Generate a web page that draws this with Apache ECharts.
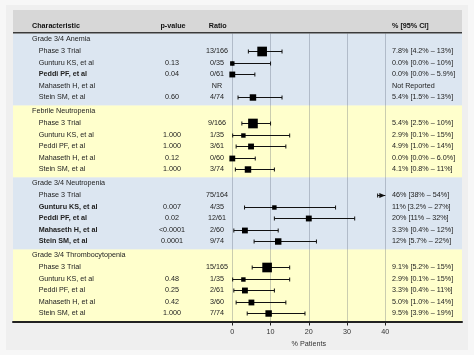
<!DOCTYPE html>
<html><head><meta charset="utf-8">
<script src="https://cdn.jsdelivr.net/npm/echarts@6/dist/echarts.min.js"></script>
<style>html,body{margin:0;padding:0;background:#f7f7f7}#c{width:474px;height:355px}</style>
</head><body><div id="c"></div>
<script>
const groups = ['Grade 3/4 Anemia', 'Febrile Neutropenia', 'Grade 3/4 Neutropenia', 'Grade 3/4 Thrombocytopenia'];
const studies = ['Phase 3 Trial', 'Gunturu KS, et al', 'Peddi PF, et al', 'Mahaseth H, et al', 'Stein SM, et al'];
const pValues = [
  ['', '0.13', '0.04', '', '0.60'],
  ['', '1.000', '1.000', '0.12', '1.000'],
  ['', '0.007', '0.02', '<0.0001', '0.0001'],
  ['', '0.48', '0.25', '0.42', '1.000']
];
const ratios = [
  ['13/166', '0/35', '0/61', 'NR', '4/74'],
  ['9/166', '1/35', '3/61', '0/60', '3/74'],
  ['75/164', '4/35', '12/61', '2/60', '9/74'],
  ['15/165', '1/35', '2/61', '3/60', '7/74']
];
const estimates = [
  [7.8, 0.0, 0.0, null, 5.4],
  [5.4, 2.9, 4.9, 0.0, 4.1],
  [46, 11, 20, 3.3, 12],
  [9.1, 2.9, 3.3, 5.0, 9.5]
];
const lower = [
  [4.2, 0.0, 0.0, null, 1.5],
  [2.5, 0.1, 1.0, 0.0, 0.8],
  [38, 3.2, 11, 0.4, 5.7],
  [5.2, 0.1, 0.4, 1.0, 3.9]
];
const upper = [
  [13, 10, 5.9, null, 13],
  [10, 15, 14, 6.0, 11],
  [54, 27, 32, 12, 22],
  [15, 15, 11, 14, 19]
];
const ciLabels = [
  ['7.8% [4.2% – 13%]', '0.0% [0.0% – 10%]', '0.0% [0.0% – 5.9%]', 'Not Reported', '5.4% [1.5% – 13%]'],
  ['5.4% [2.5% – 10%]', '2.9% [0.1% – 15%]', '4.9% [1.0% – 14%]', '0.0% [0.0% – 6.0%]', '4.1% [0.8% – 11%]'],
  ['46% [38% – 54%]', '11% [3.2% – 27%]', '20% [11% – 32%]', '3.3% [0.4% – 12%]', '12% [5.7% – 22%]'],
  ['9.1% [5.2% – 15%]', '2.9% [0.1% – 15%]', '3.3% [0.4% – 11%]', '5.0% [1.0% – 14%]', '9.5% [3.9% – 19%]']
];
const boldRows = [
  [0, 0, 1, 0, 0],
  [0, 0, 0, 0, 0],
  [0, 1, 1, 1, 1],
  [0, 0, 0, 0, 0]
];
const headers = ['Characteristic', 'p-value', 'Ratio', '% [95% CI]'];
const xAxisName = '% Patients';

const FONT = "'Liberation Sans', Arial, sans-serif";
const FS = 7.2;
const BAND = 6.2;
const TOTAL = groups.length * BAND;
const XMAX = 40;
function rowY(g, r) { return g * BAND + 0.5 + r; }

const textItems = [];
const forestData = [];
const bandData = [];
groups.forEach((gName, g) => {
  bandData.push([g * BAND, (g + 1) * BAND, g % 2]);
  textItems.push({ value: [19, rowY(g, 0)], text: gName, align: 'left', bold: false });
  studies.forEach((s, i) => {
    const y = rowY(g, i + 1);
    textItems.push({ value: [25.7, y], text: s, align: 'left', bold: !!boldRows[g][i] });
    if (pValues[g][i]) textItems.push({ value: [159, y], text: pValues[g][i], align: 'center', bold: false });
    textItems.push({ value: [204, y], text: ratios[g][i], align: 'center', bold: false });
    textItems.push({ value: [379, y], text: ciLabels[g][i], align: 'left', bold: false });
    if (estimates[g][i] !== null) {
      const n = parseInt(ratios[g][i].split('/')[1], 10);
      forestData.push([estimates[g][i], lower[g][i], upper[g][i], y, 0.75 * Math.sqrt(n)]);
    }
  });
});

const chart = echarts.init(document.getElementById('c'), null, { renderer: 'canvas' });
const option = {
  backgroundColor: '#f7f7f7',
  animation: false,
  graphic: [
    { type: 'rect', z: -10, shape: { x: 6, y: 5, width: 462, height: 345 }, style: { fill: '#efefef' } },
    { type: 'rect', z: -5, shape: { x: 13, y: 10, width: 449, height: 22.5 }, style: { fill: '#d7d7d7' } },
    { type: 'rect', z: 5, shape: { x: 13, y: 32, width: 449, height: 1.4 }, style: { fill: '#3a3a3a' } },
    { type: 'text', z: 5, x: 32, y: 26, style: { text: headers[0], font: 'bold ' + FS + 'px ' + FONT, fill: '#111', textAlign: 'left', textVerticalAlign: 'middle' } },
    { type: 'text', z: 5, x: 173, y: 26, style: { text: headers[1], font: 'bold ' + FS + 'px ' + FONT, fill: '#111', textAlign: 'center', textVerticalAlign: 'middle' } },
    { type: 'text', z: 5, x: 208.7, y: 26, style: { text: headers[2], font: 'bold ' + FS + 'px ' + FONT, fill: '#111', textAlign: 'left', textVerticalAlign: 'middle' } },
    { type: 'text', z: 5, x: 392, y: 26, style: { text: headers[3], font: 'bold ' + FS + 'px ' + FONT, fill: '#111', textAlign: 'left', textVerticalAlign: 'middle' } }
  ],
  grid: [
    { left: 232.3, top: 33.5, width: 153, height: 288 },
    { left: 13, top: 33.5, width: 449, height: 288 }
  ],
  xAxis: [
    {
      gridIndex: 0, type: 'value', min: 0, max: XMAX, interval: 10, z: 1,
      axisLine: { show: false, onZero: false },
      axisTick: { show: true, length: 4, lineStyle: { color: '#222', width: 1 } },
      axisLabel: { fontSize: FS, color: '#333', margin: 7, fontFamily: FONT },
      splitLine: { show: true, lineStyle: { color: 'rgba(80,90,110,0.3)', width: 1 } },
      name: xAxisName, nameLocation: 'middle', nameGap: 17,
      nameTextStyle: { fontSize: FS, color: '#333', fontFamily: FONT }
    },
    {
      gridIndex: 1, type: 'value', min: 0, max: 449, z: 2,
      axisLine: { show: true, onZero: false, lineStyle: { color: '#222', width: 2 } },
      axisTick: { show: false }, axisLabel: { show: false }, splitLine: { show: false }
    }
  ],
  yAxis: [
    { gridIndex: 0, type: 'value', inverse: true, min: 0, max: TOTAL, show: false },
    { gridIndex: 1, type: 'value', inverse: true, min: 0, max: TOTAL, show: false }
  ],
  series: [
    {
      type: 'custom', xAxisIndex: 1, yAxisIndex: 1, z: 0, silent: true,
      data: bandData,
      renderItem: function (params, api) {
        const p0 = api.coord([0, api.value(0)]);
        const p1 = api.coord([449, api.value(1)]);
        return { type: 'rect', shape: { x: p0[0], y: p0[1], width: p1[0] - p0[0], height: p1[1] - p0[1] },
          style: { fill: api.value(2) === 0 ? '#dce6f1' : '#ffffcc' } };
      }
    },
    {
      type: 'custom', xAxisIndex: 0, yAxisIndex: 0, z: 3, silent: true, clip: false,
      data: forestData,
      renderItem: function (params, api) {
        const est = api.value(0), lo = api.value(1), hi = api.value(2), y = api.value(3), sz = api.value(4);
        const pl = api.coord([lo, y]);
        const ph = api.coord([Math.min(hi, XMAX), y]);
        const st = { stroke: '#111', lineWidth: 1 };
        const cy = Math.round(pl[1]) + 0.5;
        const ch = [
          { type: 'line', shape: { x1: pl[0], y1: cy, x2: ph[0], y2: cy }, style: st },
          { type: 'line', shape: { x1: pl[0], y1: cy - 2, x2: pl[0], y2: cy + 2 }, style: st }
        ];
        if (hi <= XMAX) {
          ch.push({ type: 'line', shape: { x1: ph[0], y1: cy - 2, x2: ph[0], y2: cy + 2 }, style: st });
        } else {
          ch.push({ type: 'polygon', shape: { points: [[ph[0] - 6, cy - 2.5], [ph[0], cy], [ph[0] - 6, cy + 2.5]] }, style: { fill: '#111' } });
        }
        if (est <= XMAX) {
          const pe = api.coord([est, y]);
          ch.push({ type: 'rect', shape: { x: pe[0] - sz / 2, y: cy - sz / 2, width: sz, height: sz }, style: { fill: '#000' } });
        }
        return { type: 'group', children: ch };
      }
    },
    {
      type: 'custom', xAxisIndex: 1, yAxisIndex: 1, z: 3, silent: true, clip: false,
      data: textItems.map(t => t.value),
      renderItem: function (params, api) {
        const t = textItems[params.dataIndex];
        const p = api.coord([api.value(0), api.value(1)]);
        return { type: 'text', x: p[0], y: p[1],
          style: { text: t.text, font: (t.bold ? 'bold ' : '') + FS + 'px ' + FONT, fill: '#222',
            textAlign: t.align, textVerticalAlign: 'middle' } };
      }
    }
  ]
};
chart.setOption(option);
</script>
</body></html>
